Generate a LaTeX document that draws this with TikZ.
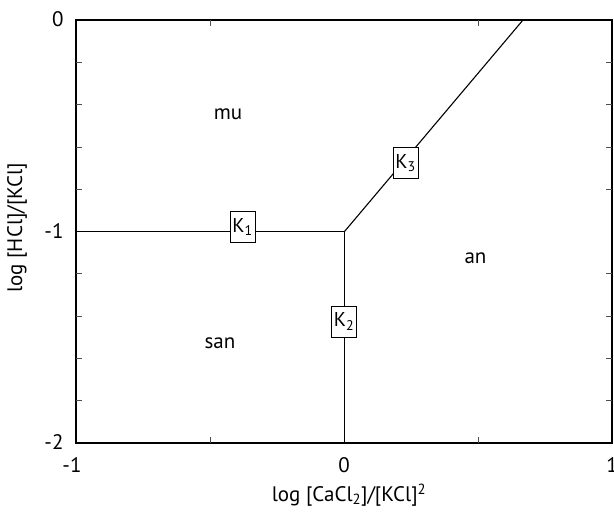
\documentclass[tikz,border=0pt]{standalone}
\usepackage{fontspec}
\setmainfont{PT Sans}
\begin{document}
\begin{tikzpicture}[x=1pt,y=-1pt,
  frame/.style={line width=1.2pt},
  boundary/.style={line width=1.1pt},
  tick/.style={line width=0.7pt,draw=black!70},
  kbox/.style={draw,line width=1pt,fill=white,minimum width=25pt,minimum height=31pt,inner sep=1pt,font=\fontsize{20}{23}\selectfont},
  lab/.style={font=\fontsize{21}{24}\selectfont},
  ticklab/.style={font=\fontsize{21}{24}\selectfont}]
\useasboundingbox (0,0) rectangle (614,512);
% frame
\draw[frame] (76,20) rectangle (612,443);
% y ticks
\foreach \y in {62.3,104.6,146.9,189.2,273.8,316.1,358.4,400.7} {
  \draw[tick] (76,\y) -- (82,\y);
  \draw[tick] (612,\y) -- (606,\y);
}
% x ticks
\foreach \x in {210,478} {
  \draw[tick] (\x,443) -- (\x,437);
  \draw[tick] (\x,20) -- (\x,26);
}
% boundary coordinates
\coordinate (L) at (76,231.5);
\coordinate (J) at (344.5,231.5);
\coordinate (B) at (344.5,443);
\coordinate (T) at (523,20);
\draw[boundary] (L) -- (J);
\draw[boundary] (J) -- (B);
\draw[boundary] (J) -- (T);
\node[kbox] (K1) at (242.5,227.4) {K\textsubscript{1}};
\node[kbox] (K2) at (344,321.5) {K\textsubscript{2}};
\node[kbox] (K3) at (405.5,163) {K\textsubscript{3}};
% region labels
\node[lab] (mu) at (228,114) {mu};
\node[lab] (an) at (475.5,258) {an};
\node[lab] (san) at (220,343) {san};
% tick labels
\node[ticklab,anchor=east] (y0) at (67,19) {0};
\node[ticklab,anchor=east] (y1) at (67,231.5) {-1};
\node[ticklab,anchor=east] (y2) at (67,442) {-2};
\node[ticklab] (x1) at (72,465) {-1};
\node[ticklab] (x0) at (344,465) {0};
\node[ticklab] (x2) at (612,465) {1};
% axis labels
\node[ticklab] (xl) at (349,495) {log [CaCl\textsubscript{2}]/[KCl]\textsuperscript{2}};
\node[ticklab,rotate=90] (yl) at (17,228) {log [HCl]/[KCl]};
\end{tikzpicture}
\end{document}
